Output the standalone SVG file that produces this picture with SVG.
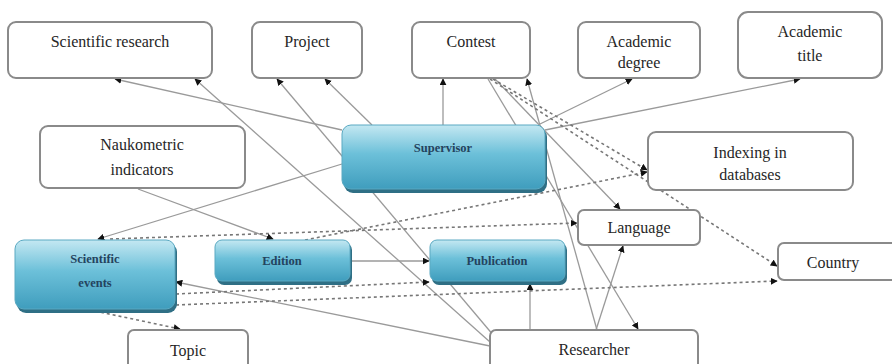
<svg xmlns="http://www.w3.org/2000/svg" width="892" height="364" viewBox="0 0 892 364">
<style>
.box{fill:#fff;stroke:#8a8a8a;stroke-width:2}
.blue{fill:url(#bg);stroke:#5aa9c2;stroke-width:1}
.shadow{fill:#2f6f85}
.t{font-family:"Liberation Serif",serif;font-size:16px;fill:#262626;text-anchor:middle}
.tb{font-family:"Liberation Serif",serif;font-size:12.5px;font-weight:bold;fill:#24435e;text-anchor:middle}
.s{stroke:#9a9a9a;stroke-width:1.3;fill:none;marker-end:url(#ah)}
.d{stroke:#777;stroke-width:1.6;stroke-dasharray:3,3;fill:none;marker-end:url(#ah)}
</style>
<defs>
<linearGradient id="bg" x1="0" y1="0" x2="0" y2="1">
<stop offset="0" stop-color="#c4e8f2"/>
<stop offset="0.45" stop-color="#6cc0d9"/>
<stop offset="1" stop-color="#3f9dbd"/>
</linearGradient>
<marker id="ah" viewBox="0 0 10 10" refX="9" refY="5" markerWidth="7" markerHeight="7" markerUnits="userSpaceOnUse" orient="auto">
<path d="M0,0 L10,5 L0,10 z" fill="#111"/>
</marker>
</defs>
<rect width="892" height="364" fill="#fff"/>
<g id="connectors">
<line class="s" x1="342" y1="130" x2="115" y2="79"/>
<line class="s" x1="490" y1="342" x2="195" y2="79"/>
<line class="s" x1="494" y1="336" x2="277" y2="79"/>
<line class="s" x1="372" y1="125" x2="325" y2="79"/>
<line class="s" x1="443" y1="125" x2="443" y2="79"/>
<line class="s" x1="540" y1="124" x2="632" y2="79"/>
<line class="s" x1="545" y1="130" x2="800" y2="79"/>
<line class="s" x1="342" y1="164" x2="98" y2="239"/>
<line class="s" x1="138" y1="189" x2="273" y2="239"/>
<line class="s" x1="350" y1="261" x2="429" y2="261"/>
<line class="s" x1="530" y1="330" x2="530" y2="284"/>
<line class="s" x1="596" y1="330" x2="623" y2="246"/>
<line class="s" x1="597" y1="330" x2="527" y2="79"/>
<line class="s" x1="495" y1="79" x2="620" y2="209"/>
<line class="s" x1="488" y1="79" x2="638" y2="329"/>
<line class="s" x1="490" y1="346" x2="176" y2="282"/>
<line class="d" x1="493" y1="79" x2="647" y2="170"/>
<line class="d" x1="490" y1="79" x2="777" y2="266"/>
<line class="d" x1="305" y1="240" x2="647" y2="172"/>
<line class="d" x1="110" y1="239" x2="577" y2="223"/>
<line class="d" x1="176" y1="294" x2="429" y2="282"/>
<line class="d" x1="176" y1="305" x2="777" y2="281"/>
<line class="d" x1="95" y1="311" x2="180" y2="329"/>
</g>
<g id="scientific-research"><rect class="box" x="8" y="22" width="204" height="56" rx="8"/><text class="t" x="110" y="47">Scientific research</text></g>
<g id="project"><rect class="box" x="252" y="22" width="110" height="56" rx="8"/><text class="t" x="307" y="47">Project</text></g>
<g id="contest"><rect class="box" x="412" y="22" width="118" height="56" rx="8"/><text class="t" x="471" y="47">Contest</text></g>
<g id="academic-degree"><rect class="box" x="578" y="22" width="122" height="56" rx="8"/><text class="t" x="639" y="47">Academic</text><text class="t" x="639" y="68">degree</text></g>
<g id="academic-title"><rect class="box" x="738" y="12" width="144" height="66" rx="10"/><text class="t" x="810" y="37">Academic</text><text class="t" x="810" y="61">title</text></g>
<g id="naukometric"><rect class="box" x="40" y="126" width="205" height="62" rx="8"/><text class="t" x="142" y="150">Naukometric</text><text class="t" x="142" y="175">indicators</text></g>
<g id="supervisor"><rect class="shadow" x="344" y="128" width="203" height="65" rx="9"/><rect class="blue" x="342" y="125" width="203" height="64" rx="9"/><text class="tb" x="443" y="152">Supervisor</text></g>
<g id="indexing"><rect class="box" x="648" y="132" width="205" height="58" rx="8"/><text class="t" x="750" y="158">Indexing in</text><text class="t" x="750" y="180">databases</text></g>
<g id="language"><rect class="box" x="578" y="210" width="122" height="35" rx="6"/><text class="t" x="639" y="233">Language</text></g>
<g id="scientific-events"><rect class="shadow" x="17" y="243" width="160" height="70" rx="9"/><rect class="blue" x="15" y="240" width="160" height="69" rx="9"/><text class="tb" x="95" y="263">Scientific</text><text class="tb" x="95" y="287">events</text></g>
<g id="edition"><rect class="shadow" x="217" y="243" width="135" height="42" rx="7"/><rect class="blue" x="215" y="240" width="135" height="41" rx="7"/><text class="tb" x="282" y="265">Edition</text></g>
<g id="publication"><rect class="shadow" x="432" y="243" width="135" height="42" rx="7"/><rect class="blue" x="430" y="240" width="135" height="41" rx="7"/><text class="tb" x="497" y="265">Publication</text></g>
<g id="country"><rect class="box" x="778" y="243" width="124" height="37" rx="6"/><text class="t" x="833" y="268">Country</text></g>
<g id="topic"><rect class="box" x="128" y="330" width="120" height="44" rx="6"/><text class="t" x="188" y="356">Topic</text></g>
<g id="researcher"><rect class="box" x="490" y="330" width="208" height="44" rx="6"/><text class="t" x="594" y="355">Researcher</text></g>
</svg>
